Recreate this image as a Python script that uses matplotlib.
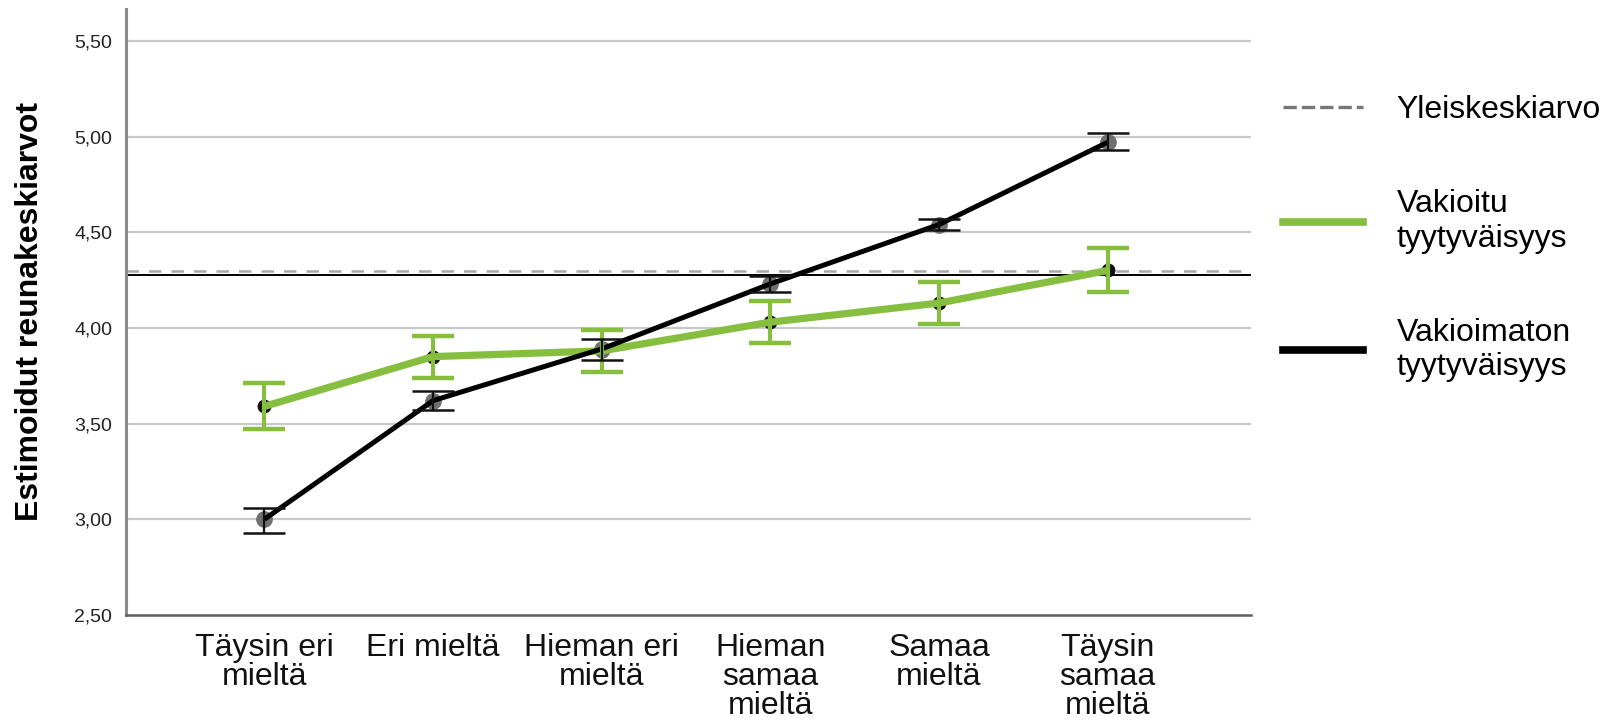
import matplotlib
matplotlib.use("Agg")
import matplotlib.pyplot as plt
from matplotlib.lines import Line2D

plt.rcParams["font.family"] = ["Liberation Sans", "DejaVu Sans"]

categories = ["Täysin eri\nmieltä", "Eri mieltä", "Hieman eri\nmieltä",
              "Hieman\nsamaa\nmieltä", "Samaa\nmieltä", "Täysin\nsamaa\nmieltä"]

# Vakioitu tyytyväisyys (adjusted)
adj_mean = [3.59, 3.85, 3.88, 4.03, 4.13, 4.30]
adj_low = [3.47, 3.74, 3.77, 3.92, 4.02, 4.19]
adj_high = [3.71, 3.96, 3.99, 4.14, 4.24, 4.42]

# Vakioimaton tyytyväisyys (unadjusted)
raw_mean = [3.00, 3.62, 3.89, 4.23, 4.54, 4.97]
raw_low = [2.93, 3.57, 3.83, 4.19, 4.51, 4.93]
raw_high = [3.06, 3.67, 3.94, 4.27, 4.57, 5.02]

grand_mean = 4.285
yticks = [2.5, 3.0, 3.5, 4.0, 4.5, 5.0, 5.5]

GREEN = "#86bf40"

fig = plt.figure(figsize=(16.08, 7.24), dpi=100)
ax = fig.add_axes([0.0784, 0.1506, 0.6996, 0.8374])

x = list(range(len(categories)))

# grid
for t in yticks[1:]:
    ax.axhline(t, color="#c8c8c8", lw=1.6, zorder=1)

# grand mean reference line
ax.axhline(grand_mean + 0.012, color="#a8a8a8", lw=1.8, ls=(0, (5, 4)), zorder=1.5)
ax.axhline(grand_mean - 0.006, color="black", lw=1.4, zorder=1.6)

# markers
ax.plot(x, adj_mean, ls="none", marker="o", ms=9, mfc="#111", mec="#111", zorder=2)
ax.plot(x, raw_mean, ls="none", marker="o", ms=11, mfc="#707070", mec="#707070", zorder=2)

# lines
ax.plot(x, adj_mean, color=GREEN, lw=5.2, solid_capstyle="butt", zorder=3)
ax.plot(x, raw_mean, color="black", lw=3.6, solid_capstyle="butt", zorder=3.5)

# error bars
adj_err = [[m - l for m, l in zip(adj_mean, adj_low)], [h - m for m, h in zip(adj_mean, adj_high)]]
raw_err = [[m - l for m, l in zip(raw_mean, raw_low)], [h - m for m, h in zip(raw_mean, raw_high)]]
ax.errorbar(x, adj_mean, yerr=adj_err, fmt="none", ecolor=GREEN, elinewidth=3,
            capsize=15, capthick=3.2, zorder=4)
ax.errorbar(x, raw_mean, yerr=raw_err, fmt="none", ecolor="#111", elinewidth=1.6,
            capsize=15, capthick=1.8, zorder=4.5)

ax.set_xlim(-0.82, 5.85)
ax.set_ylim(2.5, 5.668)
ax.set_yticks(yticks)
ax.set_yticklabels([f"{t:.2f}".replace(".", ",") for t in yticks], fontsize=14, color="#222")
ax.set_xticks(x)
ax.set_xticklabels(categories, fontsize=23, color="#111", linespacing=0.95, va="top")
ax.tick_params(axis="both", length=0)
ax.tick_params(axis="x", pad=13)
ax.tick_params(axis="y", pad=10)

for side in ["top", "right"]:
    ax.spines[side].set_visible(False)
ax.spines["left"].set_color("#8a8a8a")
ax.spines["left"].set_linewidth(2.2)
ax.spines["bottom"].set_color("#606060")
ax.spines["bottom"].set_linewidth(1.8)

ax.set_ylabel("Estimoidut reunakeskiarvot", fontsize=23, fontweight="bold", labelpad=21)

handles = [
    Line2D([], [], color="#777777", lw=2.4, ls=(0, (4, 1.5))),
    Line2D([], [], color=GREEN, lw=5.5),
    Line2D([], [], color="black", lw=5.5),
]
labels = ["Yleiskeskiarvo", "Vakioitu\ntyytyväisyys", "Vakioimaton\ntyytyväisyys"]
fig.legend(handles, labels, loc="upper left", bbox_to_anchor=(0.78, 0.908),
           frameon=False, fontsize=23, handlelength=2.5, handletextpad=1.05,
           labelspacing=2.0)

fig.savefig("out.png", dpi=100)
